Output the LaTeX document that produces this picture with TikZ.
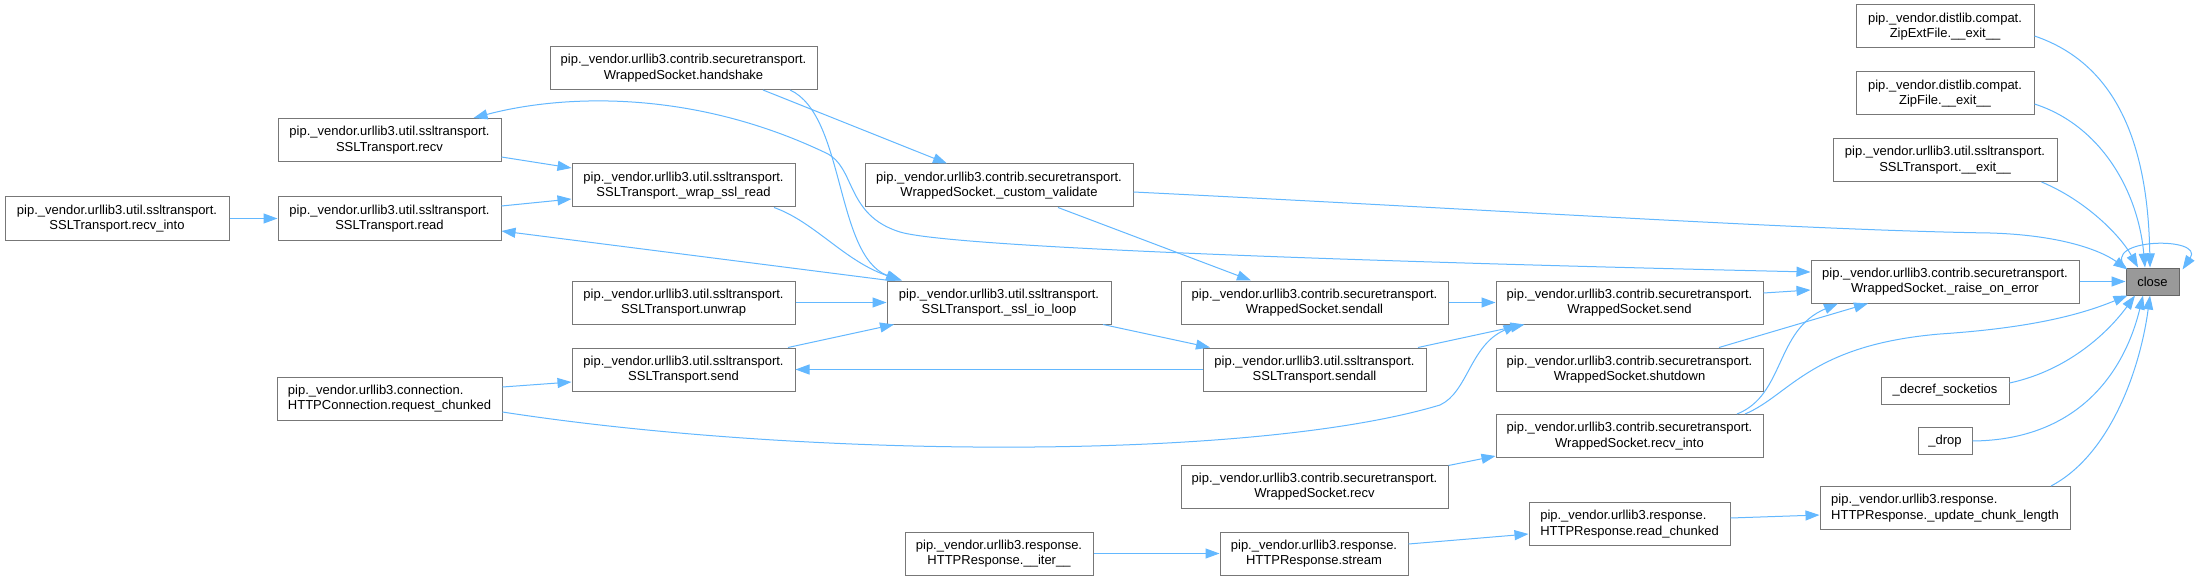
\documentclass[tikz,border=0pt]{standalone}
\usepackage{fontspec}
\setmainfont{Liberation Sans}
\usetikzlibrary{arrows.meta}
\definecolor{edgeblue}{HTML}{63B8FF}
\definecolor{boxgray}{HTML}{777777}
\definecolor{closefill}{HTML}{999999}
\tikzset{
  box/.style={draw=boxgray, fill=white, line width=1pt, inner sep=0pt, align=center, font=\fontsize{13pt}{15.7pt}\selectfont},
  lbox/.style={box, align=left},
  sz/.style 2 args={minimum width=#1pt, minimum height=#2pt},
  conn/.style={draw=edgeblue, line width=1pt, -{Triangle[length=14pt,width=10pt]}},
  conntwo/.style={draw=edgeblue, line width=1pt, {Triangle[length=14pt,width=10pt]}-{Triangle[length=14pt,width=10pt]}},
}
\begin{document}
\begin{tikzpicture}[x=1pt,y=-1pt]
\useasboundingbox[fill=white] (0,0) rectangle (2197,580);
% nodes
\node[box,sz={224}{43}] (recvinto) at (117,218.5) {pip.\_vendor.urllib3.util.ssltransport.\\SSLTransport.recv\_into};
\node[box,sz={223}{43}] (recv) at (389.5,140) {pip.\_vendor.urllib3.util.ssltransport.\\SSLTransport.recv};
\node[box,sz={223}{43}] (read) at (389.5,218.5) {pip.\_vendor.urllib3.util.ssltransport.\\SSLTransport.read};
\node[lbox,sz={225}{43}] (reqchunk) at (389.5,398.5) {pip.\_vendor.urllib3.connection.\\HTTPConnection.request\_chunked};
\node[box,sz={267}{43}] (handshake) at (683.5,68) {pip.\_vendor.urllib3.contrib.securetransport.\\WrappedSocket.handshake};
\node[box,sz={223}{43}] (wrapread) at (683.5,185.5) {pip.\_vendor.urllib3.util.ssltransport.\\SSLTransport.\_wrap\_ssl\_read};
\node[box,sz={223}{43}] (unwrap) at (683.5,302.5) {pip.\_vendor.urllib3.util.ssltransport.\\SSLTransport.unwrap};
\node[box,sz={223}{43}] (ssend) at (683.5,369.5) {pip.\_vendor.urllib3.util.ssltransport.\\SSLTransport.send};
\node[box,sz={268}{43}] (custval) at (999,185.5) {pip.\_vendor.urllib3.contrib.securetransport.\\WrappedSocket.\_custom\_validate};
\node[box,sz={224}{43}] (ioloop) at (999,302.5) {pip.\_vendor.urllib3.util.ssltransport.\\SSLTransport.\_ssl\_io\_loop};
\node[box,sz={188}{43}] (iter) at (999,553.5) {pip.\_vendor.urllib3.response.\\HTTPResponse.\_\_iter\_\_};
\node[box,sz={267}{43}] (wssendall) at (1314.5,302.5) {pip.\_vendor.urllib3.contrib.securetransport.\\WrappedSocket.sendall};
\node[box,sz={223}{43}] (ssendall) at (1314.5,369.5) {pip.\_vendor.urllib3.util.ssltransport.\\SSLTransport.sendall};
\node[box,sz={267}{43}] (wsrecv) at (1314.5,486.5) {pip.\_vendor.urllib3.contrib.securetransport.\\WrappedSocket.recv};
\node[box,sz={188}{43}] (stream) at (1314,553.5) {pip.\_vendor.urllib3.response.\\HTTPResponse.stream};
\node[box,sz={267}{43}] (wssend) at (1629.5,302.5) {pip.\_vendor.urllib3.contrib.securetransport.\\WrappedSocket.send};
\node[box,sz={267}{43}] (wsshutdown) at (1629.5,369.5) {pip.\_vendor.urllib3.contrib.securetransport.\\WrappedSocket.shutdown};
\node[box,sz={267}{43}] (wsrecvinto) at (1629.5,436) {pip.\_vendor.urllib3.contrib.securetransport.\\WrappedSocket.recv\_into};
\node[lbox,sz={201}{43}] (readchunked) at (1629.5,524) {pip.\_vendor.urllib3.response.\\HTTPResponse.read\_chunked};
\node[box,sz={178}{43}] (zipext) at (1945,26.5) {pip.\_vendor.distlib.compat.\\ZipExtFile.\_\_exit\_\_};
\node[box,sz={178}{43}] (zipfile) at (1945,93.5) {pip.\_vendor.distlib.compat.\\ZipFile.\_\_exit\_\_};
\node[box,sz={224}{43}] (sexit) at (1945,160) {pip.\_vendor.urllib3.util.ssltransport.\\SSLTransport.\_\_exit\_\_};
\node[box,sz={268}{43}] (raiseerr) at (1945,281.5) {pip.\_vendor.urllib3.contrib.securetransport.\\WrappedSocket.\_raise\_on\_error};
\node[box,sz={128}{27}] (decref) at (1945,390.5) {\_decref\_socketios};
\node[box,sz={54}{27}] (drop) at (1945,441) {\_drop};
\node[lbox,sz={250}{43}] (updchunk) at (1945,508) {pip.\_vendor.urllib3.response.\\HTTPResponse.\_update\_chunk\_length};
\node[box,sz={53}{27},fill=closefill,draw=black!60] (close) at (2152.5,281.5) {close};
% connectors
\draw[conn] (recvinto.east) -- (read.west);
\draw[conn] ([yshift=-17pt]recv.east) -- ([yshift=17.5pt]wrapread.west);
\draw[conn] ([yshift=12.5pt]read.east) -- ([yshift=-13.5pt]wrapread.west);
\draw[conn] ([xshift=3pt]ioloop.north west) -- ([yshift=-12.5pt]read.east);
\draw[conn] ([xshift=79.5pt]handshake.south) -- ([xshift=-52pt]custval.north);
\draw[conn] ([xshift=106.5pt]handshake.south) .. controls (845,115) and (835,255) .. ([xshift=-99pt]ioloop.north);
\draw[conn] ([xshift=90.5pt]wrapread.south) .. controls (815,222) and (845,262) .. ([xshift=-97pt]ioloop.north);
\draw[conn] (unwrap.east) -- (ioloop.west);
\draw[conn] ([xshift=104.5pt]ssend.north) -- ([xshift=-105pt]ioloop.south);
\draw[conn] (ssendall.west) -- (ssend.east);
\draw[conn] ([xshift=104pt]ioloop.south) -- ([xshift=-104.5pt]ssendall.north);
\draw[conn] ([yshift=11.5pt]reqchunk.east) -- ([yshift=-12.5pt]ssend.west);
\draw[conn] ([yshift=-13.5pt]reqchunk.east) .. controls (800,458) and (1250,462) .. (1440,405) .. controls (1468,392) and (1470,345) .. ([xshift=-112pt]wssend.south);
\draw[conn] ([xshift=103.5pt]ssendall.north) -- ([xshift=-105pt]wssend.south);
\draw[conn] (wssendall.east) -- (wssend.west);
\draw[conn] ([xshift=59pt]custval.south) -- ([xshift=-63.5pt]wssendall.north);
\draw[conn] ([yshift=-6.5pt]custval.east) .. controls (1500,210) and (1800,230) .. (1990,233) .. controls (2060,235) and (2100,250) .. ([xshift=2pt,yshift=-2pt]close.north west);
\draw[conntwo] ([xshift=-28pt]recv.north east) .. controls (560,95) and (690,88) .. (826,153) .. controls (856,167) and (845,215) .. (900,232) .. controls (960,250) and (1500,265) .. ([yshift=9.5pt]raiseerr.west);
\draw[conn] ([yshift=9.5pt]wssend.east) -- ([yshift=-8.5pt]raiseerr.west);
\draw[conn] ([xshift=89.5pt]wsshutdown.north) -- ([xshift=-77pt]raiseerr.south);
\draw[conn] ([xshift=107.5pt]wsrecvinto.north) .. controls (1785,395) and (1775,330) .. ([xshift=-107pt]raiseerr.south);
\draw[conn] ([xshift=115.5pt]wsrecvinto.north) .. controls (1790,395) and (1810,345) .. (1940,334) .. controls (2030,328) and (2080,315) .. ([xshift=2pt]close.south west);
\draw[conn] ([yshift=21pt]wsrecv.east) -- ([yshift=-20pt]wsrecvinto.west);
\draw[conn] (iter.east) -- (stream.west);
\draw[conn] ([yshift=9.5pt]stream.east) -- ([yshift=-10pt]readchunked.west);
\draw[conn] ([yshift=6pt]readchunked.east) -- ([yshift=-7pt]updchunk.west);
\draw[conn] ([yshift=-9.5pt]zipext.east) .. controls (2120,65) and (2148,150) .. ([xshift=-2.5pt]close.north);
\draw[conn] ([yshift=-10.5pt]zipfile.east) .. controls (2100,125) and (2138,190) .. ([xshift=-7.5pt]close.north);
\draw[conn] ([xshift=-16pt]sexit.south east) .. controls (2085,200) and (2120,235) .. ([xshift=-14.5pt]close.north);
\draw[conn] (raiseerr.east) -- (close.west);
\draw[conn] ([yshift=7.5pt]decref.east) .. controls (2070,370) and (2110,330) .. ([xshift=-17.5pt]close.south);
\draw[conn] (drop.east) .. controls (2080,440) and (2125,370) .. ([xshift=-9.5pt]close.south);
\draw[conn] ([xshift=106pt]updchunk.north) .. controls (2110,455) and (2140,370) .. ([xshift=-2.5pt]close.south);
\draw[conn] (close.north west) .. controls (2100,238) and (2205,236) .. ([xshift=3pt,yshift=-2pt]close.north east);
\end{tikzpicture}
\end{document}
